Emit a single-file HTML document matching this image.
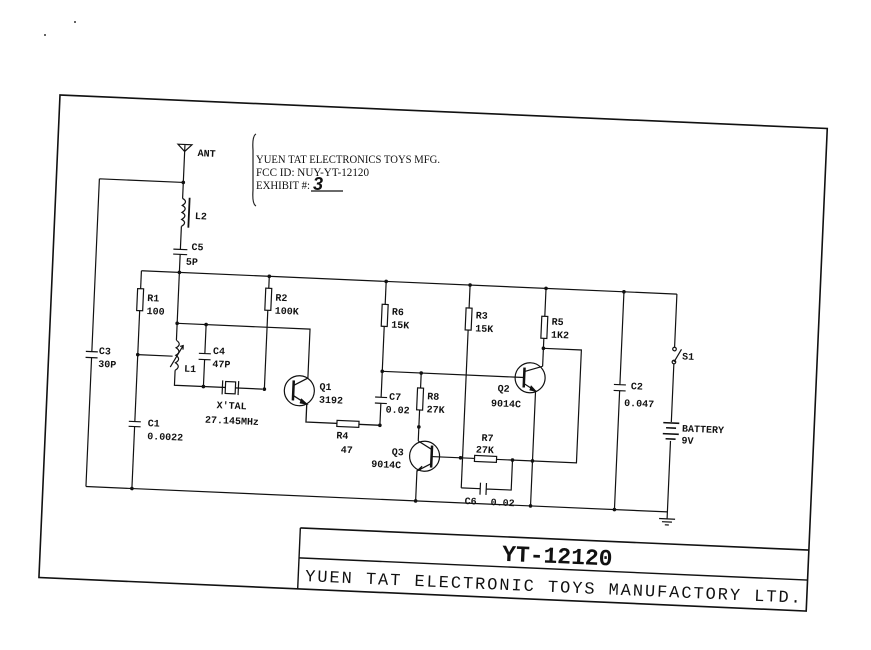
<!DOCTYPE html>
<html><head><meta charset="utf-8"><style>
html,body{margin:0;padding:0;background:#fff;}
svg{display:block;}
text{font-family:"Liberation Mono",monospace;fill:#111;}
</style></head><body>
<svg width="871" height="650" viewBox="0 0 871 650" xmlns="http://www.w3.org/2000/svg">
<rect width="871" height="650" fill="#fff"/>
<circle cx="45" cy="35" r="1" fill="#333"/><circle cx="75" cy="22" r="1" fill="#333"/>
<!-- stamp -->
<path d="M256 134 Q252 136 253 150 L253 190 Q252 204 256 206" fill="none" stroke="#222" stroke-width="1.2"/>
<g font-size="11.5">
<text x="256" y="163" textLength="184" lengthAdjust="spacingAndGlyphs" style="font-family:'Liberation Serif',serif">YUEN TAT ELECTRONICS TOYS MFG.</text>
<text x="256" y="176" textLength="113" lengthAdjust="spacingAndGlyphs" style="font-family:'Liberation Serif',serif">FCC ID:  NUY-YT-12120</text>
<text x="256" y="189" textLength="54" lengthAdjust="spacingAndGlyphs" style="font-family:'Liberation Serif',serif">EXHIBIT #:</text>
</g>
<text x="313" y="190" font-size="18" font-weight="bold" style="font-family:'Liberation Sans',sans-serif;font-style:italic">3</text>
<line x1="311" y1="191" x2="343" y2="191" stroke="#111" stroke-width="1.2"/>

<g transform="rotate(2.5 60 95)" stroke="#111" stroke-width="1.2" fill="none">
<rect x="60" y="95" width="768" height="483" stroke-width="1.6"/>
<line x1="319" y1="517" x2="828" y2="517" stroke-width="1.6"/>
<line x1="319" y1="547" x2="828" y2="547" stroke-width="1.4"/>
<line x1="319" y1="517" x2="319" y2="578" stroke-width="1.4"/>

<path d="M180 139 L194 139 L187 146 Z M187 139 L187 267"/>
<path d="M103 177 L187 177 M103 177 L103 350 M103 356 L103 485"/>
<path d="M97 350 L109 350 M97 356 L109 356"/>
<rect x="184" y="193" width="6" height="28" fill="#fff" stroke="none"/>
<path d="M187 193 q6 3 0 7 q6 3 0 7 q6 3 0 7 q6 3 0 7"/>
<line x1="194" y1="192" x2="194" y2="222" stroke-width="1.8"/>
<rect x="182" y="244" width="10" height="5" fill="#fff" stroke="none"/>
<path d="M180 244 L194 244 M180 249 L194 249"/>
<line x1="149" y1="267" x2="685" y2="267"/>
<line x1="103" y1="485" x2="685" y2="485"/>
<line x1="149" y1="267" x2="149" y2="485"/>
<rect x="146" y="285" width="6" height="22" fill="#fff"/>
<rect x="144" y="418" width="10" height="5" fill="#fff" stroke="none"/>
<path d="M143 418 L155 418 M143 423 L155 423"/>
<line x1="187" y1="267" x2="187" y2="335"/>
<line x1="149" y1="351" x2="184" y2="351"/>
<rect x="184" y="335" width="6" height="30" fill="#fff" stroke="none"/>
<path d="M187 335 q6 3.7 0 7.5 q6 3.7 0 7.5 q6 3.7 0 7.5 q6 3.7 0 7.5"/>
<path d="M182 362 L194 340 M191 341 L194 340 L194 344"/>
<path d="M187 365 L187 380 L275 380"/>
<path d="M187 318 L320 318 L320 368"/>
<path d="M216 318 L216 347 M216 353 L216 380 M210 347 L222 347 M210 353 L222 353"/>
<rect x="238" y="374" width="10" height="12" fill="#fff"/>
<path d="M235 373 L235 387 M251 373 L251 387"/>
<line x1="277" y1="267" x2="277" y2="380"/>
<rect x="274" y="279" width="6" height="22" fill="#fff"/>
<circle cx="312" cy="380" r="15"/>
<path d="M306 375 L320 367 M306 385 L320 393 L320 411 L395 411" stroke-width="1.3"/>
<line x1="306" y1="370" x2="306" y2="390" stroke-width="2.5"/>
<path d="M314 388 L320 393 L313 392" fill="#111"/>
<rect x="351" y="408" width="22" height="6" fill="#fff"/>
<line x1="394" y1="267" x2="394" y2="383"/>
<line x1="394" y1="389" x2="394" y2="411"/>
<rect x="391" y="290" width="6" height="22" fill="#fff"/>
<path d="M388 383 L400 383 M388 389 L400 389"/>
<line x1="394" y1="357" x2="527" y2="357"/>
<line x1="433" y1="357" x2="433" y2="425"/>
<rect x="430" y="372" width="6" height="22" fill="#fff"/>
<circle cx="440" cy="440" r="15"/>
<line x1="447" y1="429" x2="447" y2="451" stroke-width="2.5"/>
<path d="M447 433 L433 425 M447 447 L433 455 L433 485 M447 440 L476 440"/>
<path d="M437 453 L433 455 L438 450" fill="#111"/>
<line x1="478" y1="267" x2="478" y2="470"/>
<rect x="475" y="290" width="6" height="22" fill="#fff"/>
<path d="M476 440 L592 440 L592 327 L554 327"/>
<rect x="490" y="437" width="22" height="6" fill="#fff"/>
<path d="M478 470 L497 470 M503 470 L528 470 L528 440 M497 464 L497 476 M503 464 L503 476"/>
<line x1="554" y1="267" x2="554" y2="345"/>
<rect x="551" y="295" width="6" height="22" fill="#fff"/>
<circle cx="542" cy="357" r="15"/>
<line x1="536" y1="347" x2="536" y2="367" stroke-width="2.5"/>
<path d="M536 351 L554 345 M536 363 L548 370 L548 485 M527 357 L536 357"/>
<path d="M542 369 L548 370 L543 365" fill="#111"/>
<path d="M632 267 L632 360 M632 366 L632 485 M626 360 L638 360 M626 366 L638 366"/>
<path d="M685 267 L685 320 M685 337 L685 395 M685 414 L685 492"/>
<circle cx="685" cy="322" r="1.8"/><circle cx="685" cy="335" r="1.8"/>
<line x1="685" y1="335" x2="692" y2="322"/>
<path d="M677 396 L693 396 M680 401 L690 401 M677 407 L693 407 M680 412 L690 412" stroke-width="1.6"/>
<path d="M677 492 L693 492 M680 495 L690 495 M683 498 L687 498"/>
</g>
<g transform="rotate(2.5 60 95)" fill="#111" stroke="none">
<circle cx="187" cy="177" r="1.8"/><circle cx="187" cy="267" r="1.8"/><circle cx="277" cy="267" r="1.8"/>
<circle cx="394" cy="267" r="1.8"/><circle cx="478" cy="267" r="1.8"/><circle cx="554" cy="267" r="1.8"/><circle cx="632" cy="267" r="1.8"/>
<circle cx="187" cy="318" r="1.8"/><circle cx="216" cy="318" r="1.8"/><circle cx="149" cy="351" r="1.8"/>
<circle cx="216" cy="380" r="1.8"/><circle cx="277" cy="380" r="1.8"/><circle cx="394" cy="357" r="1.8"/><circle cx="433" cy="357" r="1.8"/>
<circle cx="394" cy="411" r="1.8"/><circle cx="433" cy="411" r="1.8"/><circle cx="476" cy="440" r="1.8"/><circle cx="528" cy="440" r="1.8"/><circle cx="548" cy="440" r="1.8"/>
<circle cx="554" cy="327" r="1.8"/><circle cx="149" cy="485" r="1.8"/><circle cx="433" cy="485" r="1.8"/><circle cx="548" cy="485" r="1.8"/><circle cx="632" cy="485" r="1.8"/>
<g font-size="10" font-weight="bold">
<text x="200" y="150">ANT</text>
<text x="200" y="213">L2</text>
<text x="198" y="244">C5</text><text x="193" y="259">5P</text>
<text x="156" y="297">R1</text><text x="156" y="310">100</text>
<text x="162" y="422">C1</text><text x="162" y="435">0.0022</text>
<text x="110" y="352">C3</text><text x="110" y="365">30P</text>
<text x="196" y="366">L1</text>
<text x="224" y="347">C4</text><text x="224" y="360">47P</text>
<text x="230" y="401">X'TAL</text><text x="219" y="416">27.145MHz</text>
<text x="284" y="291">R2</text><text x="284" y="304">100K</text>
<text x="332" y="378">Q1</text><text x="332" y="391">3192</text>
<text x="351" y="426">R4</text><text x="356" y="440">47</text>
<text x="401" y="300">R6</text><text x="401" y="313">15K</text>
<text x="402" y="385">C7</text><text x="399" y="398">0.02</text>
<text x="440" y="383">R8</text><text x="440" y="396">27K</text>
<text x="407" y="440">Q3</text><text x="387" y="453">9014C</text>
<text x="485" y="300">R3</text><text x="485" y="313">15K</text>
<text x="561" y="303">R5</text><text x="561" y="316">1K2</text>
<text x="510" y="372">Q2</text><text x="504" y="387">9014C</text>
<text x="496" y="422">R7</text><text x="491" y="434">27K</text>
<text x="482" y="486">C6</text><text x="508" y="486">0.02</text>
<text x="643" y="364">C2</text><text x="637" y="381">0.047</text>
<text x="693" y="332">S1</text>
<text x="696" y="404">BATTERY</text><text x="696" y="416">9V</text>
</g>
<text x="577" y="541" font-size="23" font-weight="bold" text-anchor="middle">YT-12120</text>
<text x="326" y="570" font-size="17" textLength="496" lengthAdjust="spacing">YUEN TAT ELECTRONIC TOYS MANUFACTORY LTD.</text>
</g>
</svg>
</body></html>
